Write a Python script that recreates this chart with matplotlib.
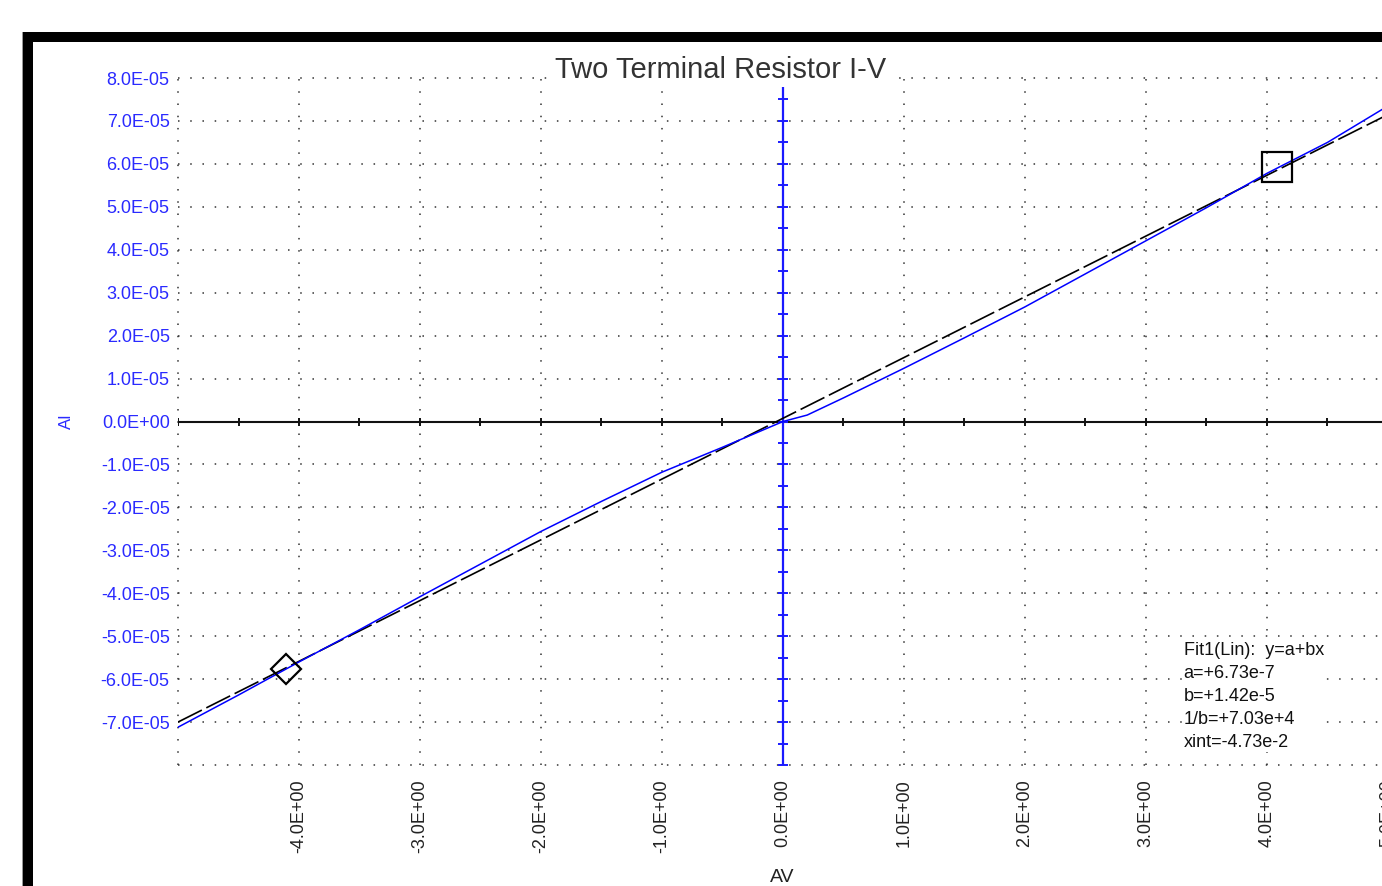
import numpy as np
import matplotlib
matplotlib.use("Agg")
import matplotlib.pyplot as plt
from matplotlib.patches import Rectangle

volts = [-5.0, -4.5, -4.0, -3.5, -3.0, -2.5, -2.0, -1.5, -1.0, -0.5, 0.0,
         0.2, 0.5, 1.0, 1.5, 2.0, 2.5, 3.0, 3.5, 4.0, 4.5, 5.0]
amps = [-7.12e-5, -6.37e-5, -5.60e-5, -4.85e-5, -4.08e-5, -3.32e-5, -2.56e-5,
        -1.86e-5, -1.18e-5, -0.60e-5, 0.0, 0.15e-5, 0.55e-5, 1.24e-5, 1.95e-5,
        2.67e-5, 3.44e-5, 4.21e-5, 4.98e-5, 5.78e-5, 6.50e-5, 7.35e-5]

# linear fit line (dashed)
fit_v = [-5.0, 5.0]
fit_i = [-7.0e-5, 7.15e-5]

# cursors
cursor_sq = (4.08, 5.92e-5)
cursor_dia = (-4.11, -5.76e-5)

fit_text = "Fit1(Lin):  y=a+bx\na=+6.73e-7\nb=+1.42e-5\n1/b=+7.03e+4\nxint=-4.73e-2"

x_ticks = [-5, -4, -3, -2, -1, 0, 1, 2, 3, 4, 5]
x_labels = ["", "-4.0E+00", "-3.0E+00", "-2.0E+00", "-1.0E+00", "0.0E+00",
            "1.0E+00", "2.0E+00", "3.0E+00", "4.0E+00", "5.0E+00"]
y_ticks = [-8e-5, -7e-5, -6e-5, -5e-5, -4e-5, -3e-5, -2e-5, -1e-5, 0,
           1e-5, 2e-5, 3e-5, 4e-5, 5e-5, 6e-5, 7e-5, 8e-5]
y_labels = ["", "-7.0E-05", "-6.0E-05", "-5.0E-05", "-4.0E-05", "-3.0E-05",
            "-2.0E-05", "-1.0E-05", "0.0E+00", "1.0E-05", "2.0E-05", "3.0E-05",
            "4.0E-05", "5.0E-05", "6.0E-05", "7.0E-05", "8.0E-05"]

blue = "#2a2aff"
W, H = 1382, 886
plt.rcParams['font.family'] = ['Liberation Sans', 'DejaVu Sans']

fig = plt.figure(figsize=(W / 100, H / 100), dpi=100, facecolor="white")
ax = fig.add_axes([178 / W, (H - 765) / H, 1210 / W, 687 / H])

ax.set_xlim(-5, 5)
ax.set_ylim(-8e-5, 8e-5)
for s in ax.spines.values():
    s.set_visible(False)

ax.set_xticks(x_ticks, x_labels, rotation=90, fontsize=13, color="#222222")
ax.set_yticks(y_ticks, y_labels, fontsize=13, color=blue)
ax.tick_params(axis="both", length=0)
ax.tick_params(axis="x", pad=10)
ax.tick_params(axis="y", pad=6)
ax.grid(True, linestyle=(0, (1, 7)), color="#333333", linewidth=1.1)
for gl in ax.get_xgridlines() + ax.get_ygridlines():
    gl.set_clip_on(False)

# zero axes with their small ticks
ax.axhline(0, color="#111111", lw=1.5, zorder=3)
ax.plot(np.arange(-5, 5.01, 0.5), np.zeros(21), ls="none", marker="|",
        ms=6, mew=1.4, color="#111111", zorder=3)
ax.axvline(0, ymax=0.992, color="#1a1aff", lw=1.6, zorder=3)
ax.plot(np.zeros(33), np.arange(-8e-5, 8.01e-5, 0.5e-5), ls="none", marker="_",
        ms=7, mew=1.4, color="#1a1aff", zorder=3)

ax.plot(fit_v, fit_i, color="black", lw=1.2, dashes=(16, 3), zorder=4)
ax.plot(volts, amps, color="#0000ff", lw=1.1, zorder=5)

ax.plot(*cursor_sq, marker="s", ms=21, mfc="none", mec="black", mew=1.6, zorder=6)
ax.plot(*cursor_dia, marker="D", ms=15, mfc="none", mec="black", mew=1.6, zorder=6)

ax.text(3.31, -5.13e-5, fit_text, fontsize=13, va="top", ha="left",
        linespacing=1.46, color="#111111", zorder=7,
        bbox=dict(facecolor="white", edgecolor="none", pad=1))

fig.text(721 / W, 1 - 78 / H, "Two Terminal Resistor I-V", fontsize=21,
         ha="center", va="baseline", color="#333333",
         bbox=dict(facecolor="white", edgecolor="none", pad=2))
fig.text(782 / W, 1 - 877 / H, "AV", fontsize=14, ha="center", va="center",
         color="#222222")
fig.text(66 / W, 1 - 421 / H, "AI", fontsize=12, rotation=90, ha="center",
         va="center", color=blue)

# window frame
fig.add_artist(Rectangle((23 / W, 0), 10 / W, (H - 32) / H, transform=fig.transFigure,
                         facecolor="black", edgecolor="none"))
fig.add_artist(Rectangle((23 / W, (H - 42) / H), (W - 23) / W, 10 / H,
                         transform=fig.transFigure, facecolor="black", edgecolor="none"))
fig.add_artist(Rectangle((22 / W, 0), 1.5 / W, (H - 32) / H, transform=fig.transFigure,
                         facecolor="#999999", edgecolor="none"))

fig.savefig("out.png", dpi=100)
